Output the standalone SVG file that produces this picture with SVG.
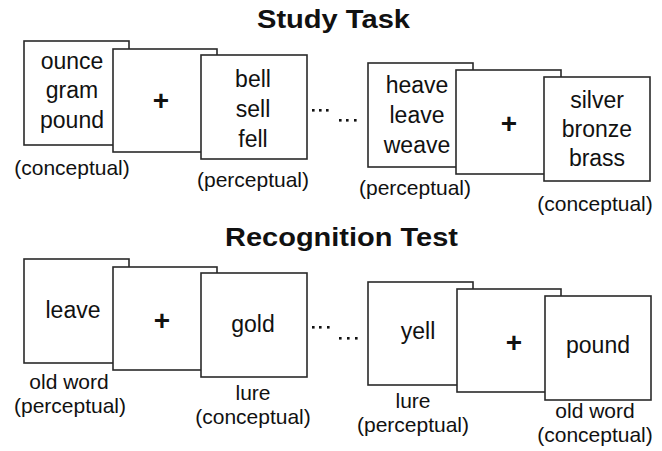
<svg xmlns="http://www.w3.org/2000/svg" width="662" height="451" viewBox="0 0 662 451">
<style>
.box{fill:#fff;stroke:#2a2a2a;stroke-width:1.6}
.w{font-family:"Liberation Sans",Arial,sans-serif;font-size:23px;fill:#111;text-anchor:middle}
.l{font-family:"Liberation Sans",Arial,sans-serif;font-size:21px;fill:#111;text-anchor:middle}
.t{font-family:"Liberation Sans",Arial,sans-serif;font-size:25px;font-weight:bold;fill:#111;text-anchor:middle}
.p{font-family:"Liberation Sans",Arial,sans-serif;font-size:28px;font-weight:bold;fill:#111;text-anchor:middle}
.d{fill:#111}
</style>
<rect width="662" height="451" fill="#fff"/>
<text class="t" x="333.5" y="28" textLength="153" lengthAdjust="spacingAndGlyphs">Study Task</text>
<text class="t" x="341.5" y="246" textLength="233" lengthAdjust="spacingAndGlyphs">Recognition Test</text>

<g id="study-1">
<rect class="box" x="24" y="41" width="105" height="104"/>
<text class="w" x="72" y="69">ounce</text>
<text class="w" x="72" y="98">gram</text>
<text class="w" x="72" y="128">pound</text>
<text class="l" x="72" y="175">(conceptual)</text>
</g>
<g id="study-2">
<rect class="box" x="113" y="49" width="104" height="103"/>
<text class="p" x="161" y="110">+</text>
</g>
<g id="study-3">
<rect class="box" x="201" y="55" width="106" height="104"/>
<text class="w" x="253" y="87">bell</text>
<text class="w" x="253" y="117">sell</text>
<text class="w" x="253" y="147">fell</text>
<text class="l" x="253" y="187">(perceptual)</text>
</g>
<g id="study-4">
<rect class="box" x="368" y="63" width="105" height="104"/>
<text class="w" x="417" y="93">heave</text>
<text class="w" x="417" y="123">leave</text>
<text class="w" x="417" y="153">weave</text>
<text class="l" x="415" y="195">(perceptual)</text>
</g>
<g id="study-5">
<rect class="box" x="456" y="70" width="105" height="104"/>
<text class="p" x="509" y="133">+</text>
</g>
<g id="study-6">
<rect class="box" x="544" y="77" width="106" height="104"/>
<text class="w" x="597" y="108">silver</text>
<text class="w" x="597" y="137">bronze</text>
<text class="w" x="597" y="166">brass</text>
<text class="l" x="595" y="211">(conceptual)</text>
</g>

<g id="test-1">
<rect class="box" x="24" y="259" width="105" height="104"/>
<text class="w" x="73" y="318">leave</text>
<text class="l" x="69" y="389">old word</text>
<text class="l" x="70" y="413">(perceptual)</text>
</g>
<g id="test-2">
<rect class="box" x="113" y="267" width="104" height="103"/>
<text class="p" x="162" y="330">+</text>
</g>
<g id="test-3">
<rect class="box" x="201" y="273" width="106" height="104"/>
<text class="w" x="253" y="332">gold</text>
<text class="l" x="253" y="400">lure</text>
<text class="l" x="253" y="424">(conceptual)</text>
</g>
<g id="test-4">
<rect class="box" x="368" y="282" width="105" height="103"/>
<text class="w" x="418" y="339">yell</text>
<text class="l" x="413" y="408">lure</text>
<text class="l" x="413" y="432">(perceptual)</text>
</g>
<g id="test-5">
<rect class="box" x="457" y="289" width="104" height="103"/>
<text class="p" x="514" y="352">+</text>
</g>
<g id="test-6">
<rect class="box" x="545" y="296" width="106" height="104"/>
<text class="w" x="598" y="353">pound</text>
<text class="l" x="595" y="418">old word</text>
<text class="l" x="595" y="442">(conceptual)</text>
</g>

<g id="connectors">
<rect class="d" x="312" y="109" width="2.6" height="2.6"/>
<rect class="d" x="319" y="109" width="2.6" height="2.6"/>
<rect class="d" x="326" y="109" width="2.6" height="2.6"/>
<rect class="d" x="339" y="119" width="2.6" height="2.6"/>
<rect class="d" x="346" y="119" width="2.6" height="2.6"/>
<rect class="d" x="354" y="119" width="2.6" height="2.6"/>
<rect class="d" x="312" y="326" width="2.6" height="2.6"/>
<rect class="d" x="319" y="326" width="2.6" height="2.6"/>
<rect class="d" x="327" y="326" width="2.6" height="2.6"/>
<rect class="d" x="339" y="337" width="2.6" height="2.6"/>
<rect class="d" x="347" y="337" width="2.6" height="2.6"/>
<rect class="d" x="355" y="337" width="2.6" height="2.6"/>
</g>
</svg>
